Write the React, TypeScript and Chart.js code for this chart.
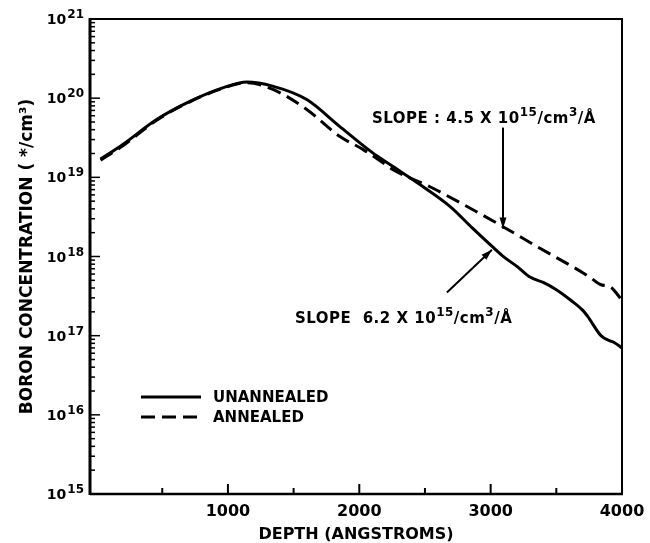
import React, { useEffect, useRef } from "react";
import { Chart, registerables } from "chart.js";

Chart.register(...registerables);

// ---- Data ----
const depthUnannealed = [30, 200, 460, 710, 960, 1145, 1340, 1600, 1850, 2100, 2234, 2462, 2690, 2860, 3020, 3100, 3205, 3300, 3400, 3500, 3610, 3700, 3740, 3840, 3900, 3940, 4000];
const concUnannealed = [1.7e19, 2.6e19, 5.4e19, 9.1e19, 1.35e20, 1.6e20, 1.42e20, 9.6e19, 4.4e19, 2.05e19, 1.45e19, 8.1e18, 4.3e18, 2.3e18, 1.3e18, 9.9e17, 7.4e17, 5.5e17, 4.7e17, 3.8e17, 2.8e17, 2.1e17, 1.74e17, 1.0e17, 8.7e16, 8.2e16, 7.0e16];

const depthAnnealed = [30, 200, 460, 710, 960, 1145, 1343, 1600, 1850, 2030, 2180, 2257, 2538, 2766, 3094, 3354, 3704, 3760, 3840, 3910, 4000];
const concAnnealed = [1.65e19, 2.5e19, 5.3e19, 9.0e19, 1.33e20, 1.57e20, 1.29e20, 7.2e19, 3.3e19, 2.24e19, 1.53e19, 1.25e19, 7.6e18, 4.8e18, 2.38e18, 1.33e18, 6.2e17, 5.4e17, 4.4e17, 4.15e17, 2.8e17];

const seriesLabels = ["UNANNEALED", "ANNEALED"];
const xTickValues = [1000, 2000, 3000, 4000];
const xMinorTickValues = [500, 1500, 2500, 3500];
const yExponents = [15, 16, 17, 18, 19, 20, 21];
const xTitle = "DEPTH (ANGSTROMS)";
const yTitle = "BORON CONCENTRATION ( */cm³)";

// annotation anchors in data units [depth, concentration]
const slopeAnnealedText: [string, boolean][] = [["SLOPE : 4.5 X 10", false], ["15", true], ["/cm", false], ["3", true], ["/Å", false]];
const slopeAnnealedTextAt = [2097, 4.9e19];
const slopeAnnealedArrowFrom = [3094, 4.25e19];
const slopeAnnealedArrowTo = [3094, 2.25e18];

const slopeUnannealedText: [string, boolean][] = [["SLOPE  6.2 X 10", false], ["15", true], ["/cm", false], ["3", true], ["/Å", false]];
const slopeUnannealedTextAt = [1510, 1.46e17];
const slopeUnannealedArrowFrom = [2667, 3.5e17];
const slopeUnannealedArrowTo = [3010, 1.22e18];

const FONT = '"DejaVu Sans", sans-serif';

function drawRich(ctx: CanvasRenderingContext2D, parts: [string, boolean][], x: number, y: number) {
  let cx = x;
  ctx.textAlign = "left";
  ctx.textBaseline = "alphabetic";
  for (const [t, s] of parts) {
    ctx.font = s ? `bold 12px ${FONT}` : `bold 15px ${FONT}`;
    ctx.fillText(t, cx, s ? y - 7 : y);
    cx += ctx.measureText(t).width;
  }
}

function drawArrow(ctx: CanvasRenderingContext2D, x1: number, y1: number, x2: number, y2: number) {
  ctx.beginPath();
  ctx.moveTo(x1, y1);
  ctx.lineTo(x2, y2);
  ctx.stroke();
  const ang = Math.atan2(y2 - y1, x2 - x1);
  const L = 11, W = 3.5;
  ctx.beginPath();
  ctx.moveTo(x2, y2);
  ctx.lineTo(x2 - L * Math.cos(ang) + W * Math.sin(ang), y2 - L * Math.sin(ang) - W * Math.cos(ang));
  ctx.lineTo(x2 - L * Math.cos(ang) - W * Math.sin(ang), y2 - L * Math.sin(ang) + W * Math.cos(ang));
  ctx.closePath();
  ctx.fill();
}

const decorPlugin = {
  id: "decor",
  afterDatasetsDraw(chart: any) {
    const { ctx, chartArea: a, scales } = chart;
    const x = scales.x, y = scales.y;
    ctx.save();
    ctx.strokeStyle = "#000";
    ctx.fillStyle = "#000";
    ctx.lineCap = "butt";

    // frame
    ctx.lineWidth = 2;
    ctx.beginPath();
    ctx.moveTo(a.left, a.top);
    ctx.lineTo(a.right, a.top);
    ctx.lineTo(a.right, a.bottom);
    ctx.stroke();
    ctx.lineWidth = 3;
    ctx.beginPath();
    ctx.moveTo(a.left, a.top - 1);
    ctx.lineTo(a.left, a.bottom + 1);
    ctx.stroke();
    ctx.lineWidth = 2.5;
    ctx.beginPath();
    ctx.moveTo(a.left, a.bottom);
    ctx.lineTo(a.right + 1, a.bottom);
    ctx.stroke();

    // y ticks (inward)
    ctx.lineWidth = 1.5;
    for (let e = yExponents[0]; e < yExponents[yExponents.length - 1]; e++) {
      for (let m = 1; m <= 9; m++) {
        const py = y.getPixelForValue(m * Math.pow(10, e));
        const len = m === 1 ? 10 : 5;
        ctx.beginPath();
        ctx.moveTo(a.left, py);
        ctx.lineTo(a.left + len, py);
        ctx.stroke();
      }
    }
    // y tick labels: 10 with superscript exponent
    ctx.textBaseline = "alphabetic";
    ctx.textAlign = "left";
    for (const e of yExponents) {
      const py = y.getPixelForValue(Math.pow(10, e));
      ctx.font = `bold 12px ${FONT}`;
      const expW = ctx.measureText(String(e)).width;
      ctx.font = `bold 14px ${FONT}`;
      const baseW = ctx.measureText("10").width;
      const right = a.left - 6;
      const x0 = right - expW - baseW - 1;
      ctx.fillText("10", x0, py + 5);
      ctx.font = `bold 12px ${FONT}`;
      ctx.fillText(String(e), x0 + baseW + 1, py - 1);
    }

    // x ticks (inward)
    ctx.lineWidth = 2;
    const xt = [...xTickValues.filter((v) => v < x.max), ...xMinorTickValues];
    for (const v of xt) {
      const px = x.getPixelForValue(v);
      const len = v % 1000 === 0 ? 10 : 6;
      ctx.beginPath();
      ctx.moveTo(px, a.bottom);
      ctx.lineTo(px, a.bottom - len);
      ctx.stroke();
    }

    // legend
    ctx.lineWidth = 3;
    const lx1 = a.left + 51, lx2 = a.left + 111;
    const ly1 = a.top + 378, ly2 = a.top + 398;
    ctx.beginPath();
    ctx.moveTo(lx1, ly1);
    ctx.lineTo(lx2, ly1);
    ctx.stroke();
    ctx.setLineDash([14, 7]);
    ctx.beginPath();
    ctx.moveTo(lx1, ly2);
    ctx.lineTo(lx2, ly2);
    ctx.stroke();
    ctx.setLineDash([]);
    ctx.font = `bold 15px ${FONT}`;
    ctx.textAlign = "left";
    ctx.textBaseline = "middle";
    ctx.fillText(chart.data.datasets[0].label, a.left + 123, ly1 + 1);
    ctx.fillText(chart.data.datasets[1].label, a.left + 123, ly2 + 1);

    // annotations
    (ctx as any).letterSpacing = "0.5px";
    ctx.lineWidth = 2;
    drawRich(ctx, slopeAnnealedText, x.getPixelForValue(slopeAnnealedTextAt[0]), y.getPixelForValue(slopeAnnealedTextAt[1]));
    drawArrow(ctx, x.getPixelForValue(slopeAnnealedArrowFrom[0]), y.getPixelForValue(slopeAnnealedArrowFrom[1]), x.getPixelForValue(slopeAnnealedArrowTo[0]), y.getPixelForValue(slopeAnnealedArrowTo[1]));
    drawRich(ctx, slopeUnannealedText, x.getPixelForValue(slopeUnannealedTextAt[0]), y.getPixelForValue(slopeUnannealedTextAt[1]));
    drawArrow(ctx, x.getPixelForValue(slopeUnannealedArrowFrom[0]), y.getPixelForValue(slopeUnannealedArrowFrom[1]), x.getPixelForValue(slopeUnannealedArrowTo[0]), y.getPixelForValue(slopeUnannealedArrowTo[1]));
    (ctx as any).letterSpacing = "0px";

    ctx.restore();
  },
};

export default function App() {
  const ref = useRef<HTMLCanvasElement | null>(null);
  useEffect(() => {
    if (!ref.current) return;
    const chart = new Chart(ref.current, {
      type: "line",
      data: {
        datasets: [
          {
            label: seriesLabels[0],
            data: depthUnannealed.map((d, i) => ({ x: d, y: concUnannealed[i] })),
            borderColor: "#000",
            borderWidth: 3,
            pointRadius: 0,
            cubicInterpolationMode: "monotone",
            fill: false,
          },
          {
            label: seriesLabels[1],
            data: depthAnnealed.map((d, i) => ({ x: d, y: concAnnealed[i] })),
            borderColor: "#000",
            borderWidth: 3,
            borderDash: [14, 7],
            pointRadius: 0,
            cubicInterpolationMode: "monotone",
            fill: false,
          },
        ],
      },
      options: {
        responsive: false,
        animation: false,
        events: [],
        layout: { padding: { top: 19, right: 28, left: 0, bottom: 0 } },
        plugins: { legend: { display: false }, tooltip: { enabled: false }, title: { display: false } },
        scales: {
          x: {
            type: "linear",
            min: -50,
            max: 4000,
            grid: { display: false },
            border: { display: false },
            afterBuildTicks: (s: any) => {
              s.ticks = xTickValues.map((v) => ({ value: v }));
            },
            afterFit: (s: any) => {
              s.height = 49;
            },
            ticks: {
              color: "#000",
              font: { family: FONT, size: 16, weight: "bold" },
              padding: 0,
              maxRotation: 0,
              autoSkip: false,
              callback: (v: any) => String(v),
            },
            title: {
              display: true,
              text: xTitle,
              color: "#000",
              font: { family: FONT, size: 16, weight: "bold", lineHeight: 1 },
              padding: { top: 0, bottom: 0 },
            },
          },
          y: {
            type: "logarithmic",
            min: Math.pow(10, yExponents[0]),
            max: Math.pow(10, yExponents[yExponents.length - 1]),
            grid: { display: false },
            border: { display: false },
            afterBuildTicks: (s: any) => {
              s.ticks = yExponents.map((e) => ({ value: Math.pow(10, e) }));
            },
            afterFit: (s: any) => {
              s.width = 90;
            },
            ticks: { display: false },
            title: {
              display: true,
              text: yTitle,
              color: "#000",
              font: { family: FONT, size: 17, weight: "bold", lineHeight: 1 },
              padding: { top: 19, bottom: 0 },
            },
          },
        },
      },
      plugins: [decorPlugin],
    } as any);
    return () => chart.destroy();
  }, []);
  return (
    <div style={{ position: "fixed", left: 0, top: 0, width: 650, height: 543, background: "#fff" }}>
      <canvas ref={ref} width={650} height={543} style={{ display: "block" }} />
    </div>
  );
}
